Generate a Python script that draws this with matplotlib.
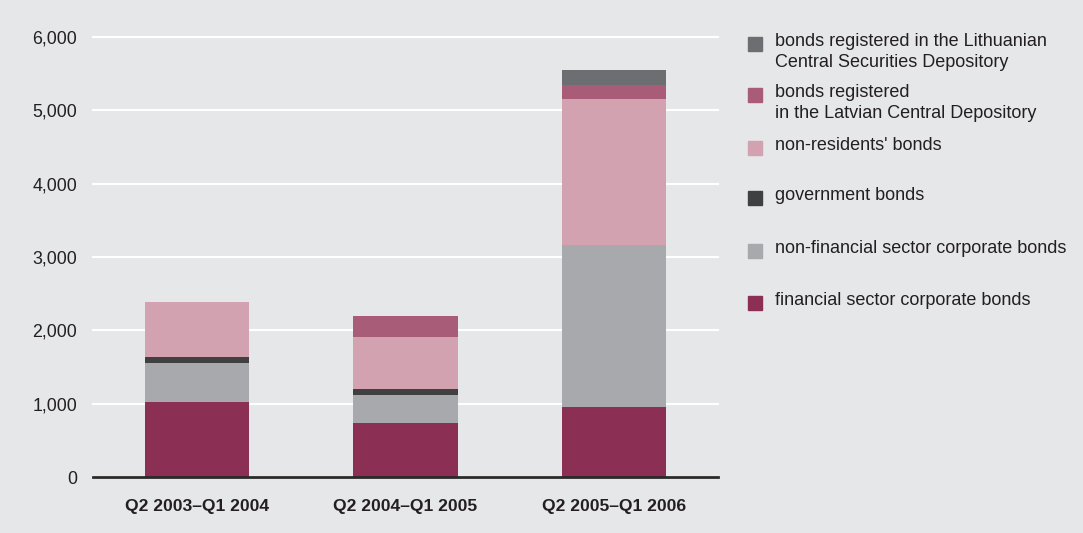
import matplotlib.pyplot as plt
import numpy as np
from matplotlib.patches import Rectangle

periods = ["Q2 2003\u2013Q1 2004", "Q2 2004\u2013Q1 2005", "Q2 2005\u2013Q1 2006"]

financial = [1020, 740, 950]
non_financial = [535, 380, 2210]
government = [80, 80, 0]
non_residents = [750, 710, 1990]
latvian = [0, 285, 190]
lithuanian = [0, 0, 205]

series = [financial, non_financial, government, non_residents, latvian, lithuanian]
colors = ["#8c2f55", "#a8a9ad", "#404040", "#d3a2b0", "#a85c77", "#6d6e71"]

legend_labels = [
    "bonds registered in the Lithuanian\nCentral Securities Depository",
    "bonds registered\nin the Latvian Central Depository",
    "non-residents' bonds",
    "government bonds",
    "non-financial sector corporate bonds",
    "financial sector corporate bonds",
]
legend_colors = ["#6d6e71", "#a85c77", "#d3a2b0", "#404040", "#a8a9ad", "#8c2f55"]

bg = "#e6e7e9"
txt = "#231f20"
plt.rcParams['font.family'] = ['Liberation Sans', 'DejaVu Sans']

fig = plt.figure(figsize=(10.83, 5.33), dpi=100, facecolor=bg)
ax = fig.add_axes([93 / 1083, 1 - 477 / 533, 625 / 1083, 440 / 533])
ax.set_facecolor(bg)

x = np.arange(len(periods))
bottom = np.zeros(len(periods))
for vals, c in zip(series, colors):
    ax.bar(x, vals, width=0.5, bottom=bottom, color=c, zorder=3)
    bottom += np.array(vals)

ax.set_xlim(-0.5, 2.5)
ax.set_ylim(0, 6000)
ax.set_yticks(range(0, 6001, 1000))
ax.set_yticklabels([f"{v:,}" for v in range(0, 6001, 1000)], fontsize=12.8, color=txt)
ax.set_xticks(x)
ax.set_xticklabels(periods, fontsize=12.6, fontweight="bold", color=txt)
ax.tick_params(axis="y", length=0, pad=11.5)
ax.tick_params(axis="x", length=0, pad=15.5)
ax.yaxis.grid(True, color="white", linewidth=1.5, zorder=0)
for gl in ax.yaxis.get_gridlines():
    gl.set_clip_on(False)
for s in ["top", "right", "left"]:
    ax.spines[s].set_visible(False)
ax.spines["bottom"].set_color("#2a2a2a")
ax.spines["bottom"].set_linewidth(2)
ax.spines["bottom"].set_zorder(4)

# legend drawn by hand to follow the reference layout
ys = [44, 95, 148, 198, 251, 303]
for lab, c, yp in zip(legend_labels, legend_colors, ys):
    fig.patches.append(Rectangle((748 / 1083, 1 - (yp + 7) / 533), 14 / 1083, 14 / 533,
                                 transform=fig.transFigure, color=c))
    fig.text(775 / 1083, 1 - (yp - 11) / 533, lab, fontsize=13, color=txt,
             va="top", ha="left", linespacing=1.33)

fig.savefig("out.png", dpi=100, facecolor=bg)
